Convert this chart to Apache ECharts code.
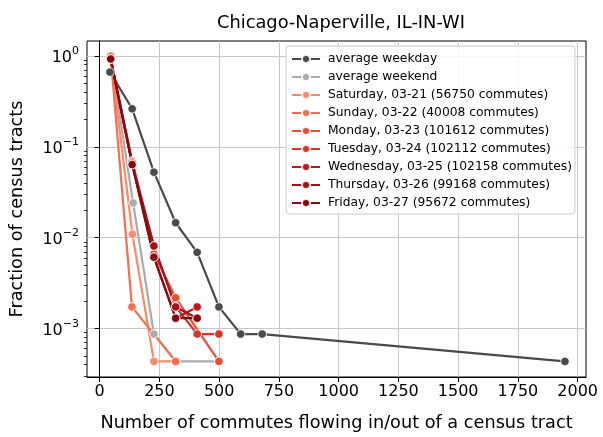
<!DOCTYPE html>
<html><head><meta charset="utf-8">
<script src="https://cdn.jsdelivr.net/npm/echarts@6/dist/echarts.min.js"></script>
<style>html,body{margin:0;padding:0;background:#fff}#c{width:603px;height:437px}</style>
</head><body><div id="c"></div>
<script>
// ---- data ----
const seriesNames = [
  'average weekday', 'average weekend',
  'Saturday, 03-21 (56750 commutes)', 'Sunday, 03-22 (40008 commutes)',
  'Monday, 03-23 (101612 commutes)', 'Tuesday, 03-24 (102112 commutes)',
  'Wednesday, 03-25 (102158 commutes)', 'Thursday, 03-26 (99168 commutes)',
  'Friday, 03-27 (95672 commutes)'
];
const avgWeekdayX = [43, 136, 227, 318, 408, 499, 590, 680, 1947];
const avgWeekdayY = [0.664, 0.262, 0.0526, 0.0146, 0.0069, 0.00173, 0.00087, 0.00087, 0.000435];
const avgWeekendX = [46, 140, 227, 318, 499];
const avgWeekendY = [0.99, 0.0241, 0.00087, 0.000435, 0.000435];
const saturdayX = [46, 137, 227, 318];
const saturdayY = [0.985, 0.0109, 0.000435, 0.000435];
const sundayX = [46, 135, 318];
const sundayY = [0.995, 0.00173, 0.000435];
const mondayX = [46, 136, 227, 318, 499];
const mondayY = [0.93, 0.070, 0.0066, 0.00218, 0.000435];
const tuesdayX = [46, 136, 227, 318, 408, 499];
const tuesdayY = [0.93, 0.068, 0.0081, 0.00173, 0.00087, 0.00087];
const wednesdayX = [46, 136, 227, 318, 408];
const wednesdayY = [0.93, 0.066, 0.0061, 0.0013, 0.00173];
const thursdayX = [46, 136, 227, 318, 408];
const thursdayY = [0.93, 0.064, 0.0081, 0.00173, 0.0013];
const fridayX = [46, 136, 227, 318, 408];
const fridayY = [0.925, 0.0637, 0.0061, 0.0013, 0.0013];
const xTicks = [0, 250, 500, 750, 1000, 1250, 1500, 1750, 2000];
const yTicks = [0.001, 0.01, 0.1, 1];
const yMinorTicks = [0.0003,0.0004,0.0005,0.0006,0.0007,0.0008,0.0009,
  0.002,0.003,0.004,0.005,0.006,0.007,0.008,0.009,
  0.02,0.03,0.04,0.05,0.06,0.07,0.08,0.09,
  0.2,0.3,0.4,0.5,0.6,0.7,0.8,0.9];

const allX = [avgWeekdayX, avgWeekendX, saturdayX, sundayX, mondayX, tuesdayX, wednesdayX, thursdayX, fridayX];
const allY = [avgWeekdayY, avgWeekendY, saturdayY, sundayY, mondayY, tuesdayY, wednesdayY, thursdayY, fridayY];
const colors = ['#4a4a4a', '#ababab', '#fc8a6a', '#f76d50', '#ec4d36', '#dc3428', '#c3161c', '#a80f16', '#850a10'];

function powLabel(v) {
  const e = Math.round(Math.log10(v));
  return '{b|10}{s|' + (e < 0 ? '−' + (-e) : '' + e) + '}';
}

const series = seriesNames.map((name, i) => ({
  name: name,
  type: 'line',
  symbol: 'circle',
  symbolSize: 8.5,
  data: allX[i].map((x, j) => [x, allY[i][j]]),
  lineStyle: { width: 2.2, color: colors[i] },
  itemStyle: { color: colors[i], borderColor: 'rgba(255,255,255,0.85)', borderWidth: 1 },
  emphasis: { disabled: true },
  animation: false
}));

const chart = echarts.init(document.getElementById('c'));
chart.setOption({
  animation: false,
  title: {
    text: 'Chicago-Naperville, IL-IN-WI',
    left: 336, top: 9, textAlign: 'center',
    textStyle: { fontFamily: 'DejaVu Sans', fontSize: 17.8, fontWeight: 'normal', color: '#000' }
  },
  grid: { left: 87, right: 17, top: 41, bottom: 57, show: true, borderColor: '#000', borderWidth: 1, backgroundColor: 'transparent' },
  legend: {
    orient: 'vertical', left: 286, top: 46,
    padding: [7, 3, 5, 5],
    itemWidth: 28, itemHeight: 10, itemGap: 6,
    backgroundColor: 'rgba(255,255,255,0.85)', borderColor: '#cccccc', borderWidth: 1, borderRadius: 3,
    textStyle: { fontFamily: 'DejaVu Sans', fontSize: 12.3, color: '#000', padding: [0, 0, 0, 3] },
    data: seriesNames
  },
  xAxis: {
    type: 'value', min: -53, max: 2035,
    name: 'Number of commutes flowing in/out of a census tract',
    nameLocation: 'middle', nameGap: 37,
    nameTextStyle: { fontFamily: 'DejaVu Sans', fontSize: 17.7, color: '#000' },
    axisLine: { show: true, lineStyle: { color: '#000', width: 1 } },
    axisTick: { show: true, length: 5, lineStyle: { color: '#000' }, customValues: xTicks },
    axisLabel: { fontFamily: 'DejaVu Sans', fontSize: 16, color: '#000', margin: 7, customValues: xTicks,
      formatter: v => String(v), showMinLabel: true, showMaxLabel: true },
    splitLine: { show: true, lineStyle: { color: '#c8c8c8', width: 1 } }
  },
  yAxis: [{
    type: 'log', logBase: 10, min: 0.000293, max: 1.46,
    name: 'Fraction of census tracts',
    nameLocation: 'middle', nameGap: 61, nameRotate: 90,
    nameTextStyle: { fontFamily: 'DejaVu Sans', fontSize: 17.7, color: '#000' },
    axisLine: { show: true, lineStyle: { color: '#000', width: 1 } },
    axisTick: { show: true, length: 5, lineStyle: { color: '#000' }, customValues: yTicks },
    axisLabel: {
      customValues: yTicks, margin: 8, formatter: powLabel,
      rich: {
        b: { fontFamily: 'DejaVu Sans', fontSize: 16, color: '#000', lineHeight: 20, verticalAlign: 'bottom' },
        s: { fontFamily: 'DejaVu Sans', fontSize: 11, color: '#000', lineHeight: 20, verticalAlign: 'top', padding: [0,0,6,0] }
      }
    },
    splitLine: { show: true, lineStyle: { color: '#c8c8c8', width: 1 } }
  }, {
    type: 'log', logBase: 10, min: 0.000293, max: 1.46, position: 'left',
    axisLine: { show: false },
    axisTick: { show: true, length: 3, lineStyle: { color: '#000', width: 0.8 }, customValues: yMinorTicks },
    axisLabel: { show: false },
    splitLine: { show: false }
  }],
  series: series
});
</script>
</body></html>
